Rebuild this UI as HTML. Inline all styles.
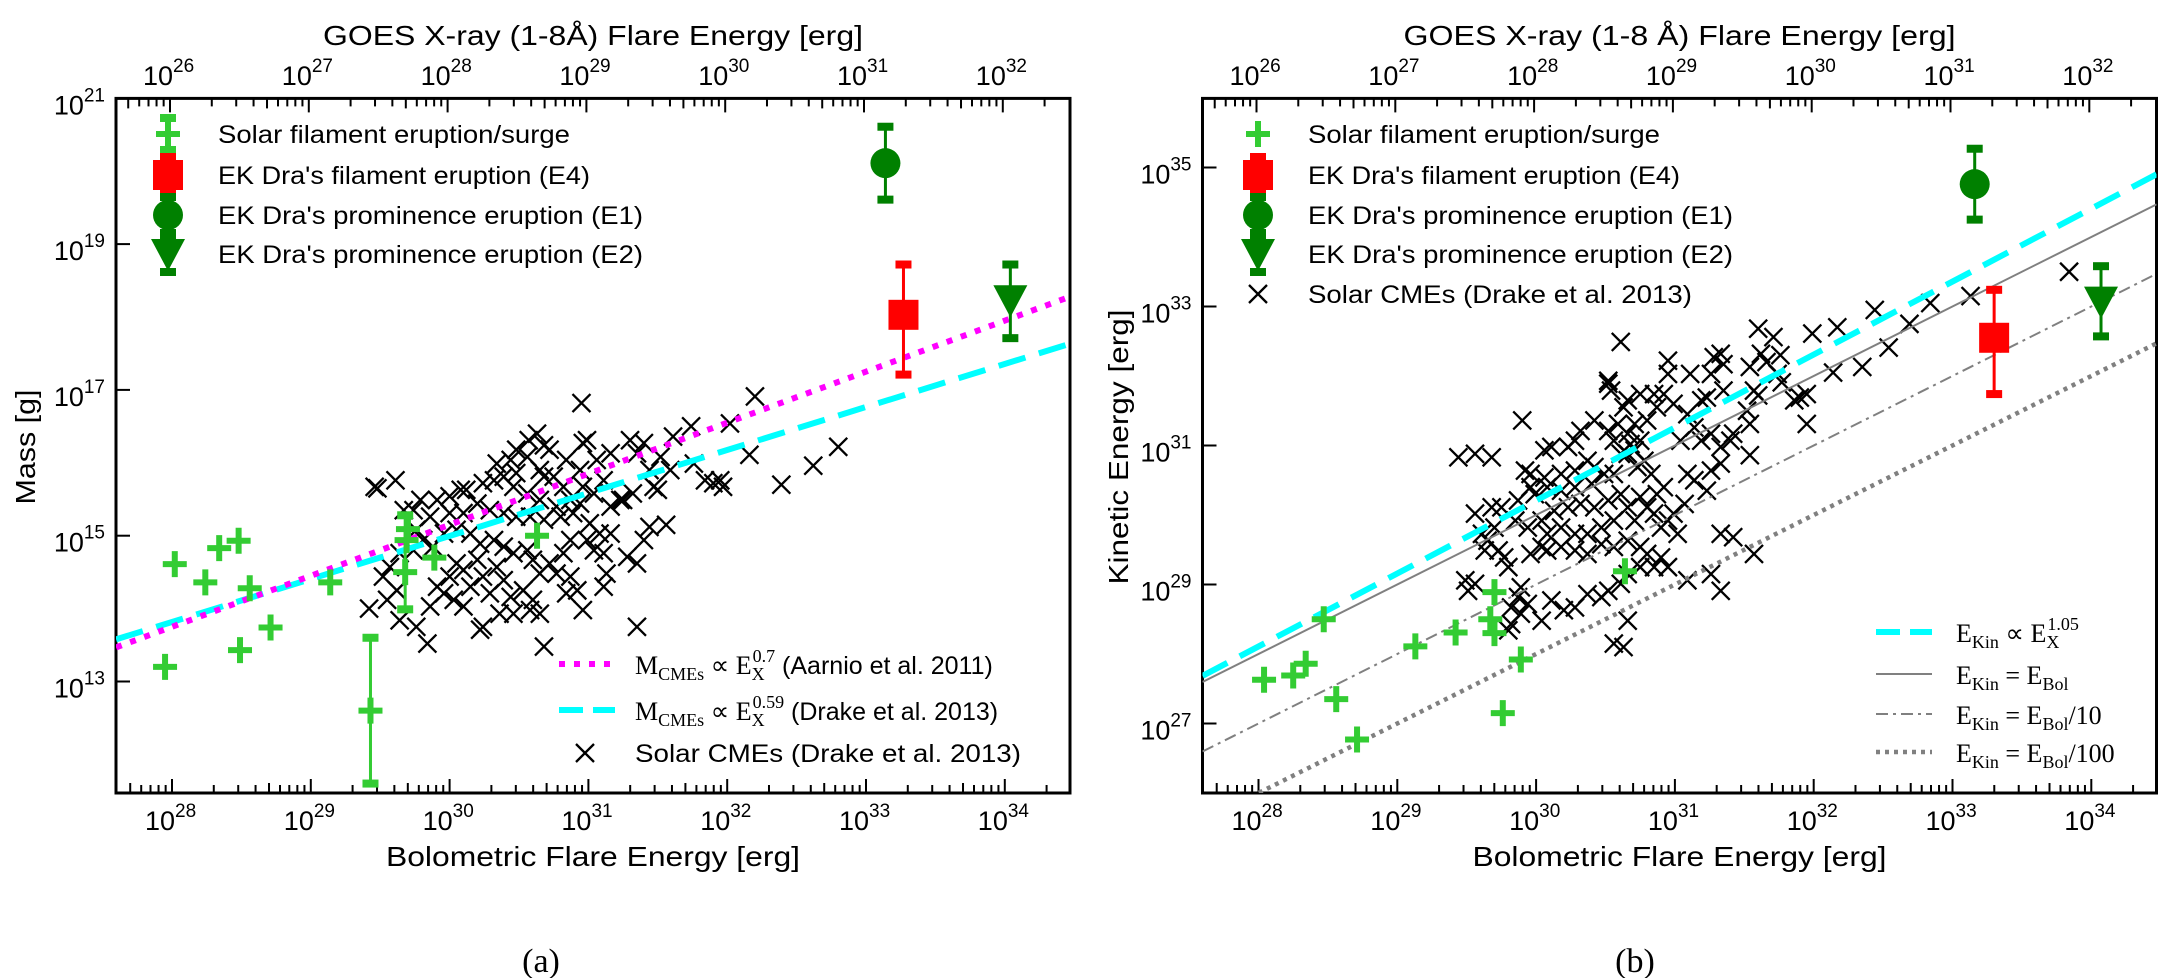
<!DOCTYPE html>
<html><head><meta charset="utf-8"><style>
html,body{margin:0;padding:0;background:#fff;}
svg{display:block;font-family:"Liberation Sans",sans-serif;}
</style></head><body>
<svg id="fig" width="2170" height="978" viewBox="0 0 2170 978" xmlns="http://www.w3.org/2000/svg">
<defs>
<clipPath id="clipL"><rect x="116" y="98.4" width="954" height="694.6"/></clipPath>
<clipPath id="clipR"><rect x="1202.5" y="98.4" width="954" height="694.6"/></clipPath>
</defs>
<g id="panelA"></g>
<g id="panelB"></g>
</svg>
<script>
// ---------- DATA (log10 values) ----------
const solarE_L = [27.95,28.02,28.24,28.34,28.48,28.56,28.49,28.71,29.14,29.43,29.70,29.69,29.68,29.89,30.63];
const solarM_L = [13.2,14.61,14.36,14.83,14.93,14.28,13.43,13.74,14.36,12.6,15.09,14.94,14.5,14.7,15.0];
const solarMlo_L = [null,null,null,null,null,null,null,null,null,11.6,null,null,13.99,null,null];
const solarMhi_L = [null,null,null,null,null,null,null,null,null,13.6,null,null,15.28,null,null];

const solarE_R = [28.04,28.25,28.34,28.47,28.56,28.71,29.13,29.42,29.70,29.67,29.70,29.89,29.76,30.64];
const solarK_R = [27.63,27.69,27.86,28.50,27.35,26.77,28.11,28.31,28.89,28.50,28.30,27.92,27.15,29.19];

const ekE_L = [33.14,33.27,34.04];          // E1, E4, E2
const ekM_L = [20.11,18.03,18.23];
const ekMlo_L = [19.61,17.21,17.71];
const ekMhi_L = [20.61,18.72,18.72];
const ekE_R = [33.16,33.30,34.07];
const ekK_R = [34.76,32.55,33.07];
const ekKlo_R = [34.25,31.74,32.57];
const ekKhi_R = [35.27,33.24,33.58];

const cmeE_L = [30.95,32.20,32.02,31.74,32.16,31.95,31.97,31.90,31.84,31.76,31.61,31.40,31.30,31.35,31.52,31.44,31.59,31.47,31.50,31.32,31.23,31.16,30.99,30.96,31.06,30.94,30.84,30.72,30.63,30.57,30.68,30.48,30.56,30.44,30.34,30.39,30.48,30.65,30.68,30.75,30.82,30.87,30.94,31.04,31.16,31.25,31.11,30.96,30.77,30.65,30.56,30.46,30.32,30.24,30.12,30.08,30.00,29.91,29.79,29.74,29.86,30.00,30.10,30.20,30.29,30.39,30.48,30.58,30.68,30.80,30.89,31.01,31.08,31.16,31.44,31.56,31.40,31.28,31.35,31.11,31.04,30.99,30.87,30.82,30.72,30.77,30.87,30.92,30.84,30.96,31.11,31.13,30.65,30.60,30.56,30.46,30.39,30.32,30.22,30.15,30.05,29.96,29.88,29.81,29.74,29.64,29.57,29.52,29.62,29.55,29.64,29.76,29.84,29.86,29.96,30.00,30.10,30.20,30.24,30.34,30.39,30.44,30.53,30.60,30.58,30.65,30.46,30.36,30.24,30.22,30.10,30.03,29.91,30.68,31.35,29.42,29.48,29.61,29.46,29.76,29.67,30.05,30.15,30.29,32.39,32.62,32.80];
const cmeM_L = [16.82,16.91,16.54,16.50,16.11,15.76,15.67,15.72,15.76,15.99,16.36,16.27,16.31,16.13,16.08,15.90,15.90,15.67,15.63,15.58,15.49,16.13,16.31,16.27,16.04,15.90,16.04,16.18,16.40,16.31,16.24,16.18,16.08,16.04,15.99,15.81,15.86,15.90,15.81,15.81,15.67,15.49,15.44,15.58,15.40,15.49,15.76,15.67,15.40,15.49,15.58,15.67,15.76,15.72,15.63,15.63,15.54,15.49,15.49,15.35,15.26,15.31,15.31,15.44,15.35,15.31,15.26,15.26,15.22,15.26,15.31,15.17,15.03,15.03,15.12,15.15,14.94,14.71,14.62,14.76,14.80,14.94,14.94,14.76,14.62,14.48,14.44,14.25,14.21,13.98,14.30,14.48,14.48,14.67,14.80,14.76,14.85,14.94,14.89,15.03,15.08,15.03,14.85,14.94,14.80,14.76,14.57,14.44,14.25,14.12,13.84,13.75,13.52,14.03,14.21,14.44,14.53,14.67,14.44,14.57,14.39,14.16,14.25,14.12,13.98,13.93,13.93,13.93,13.75,13.71,14.03,14.12,14.30,13.48,13.75,14.00,15.65,15.76,15.67,15.08,15.35,14.62,14.30,14.21,15.70,15.96,16.22];

const cmeE_R = [30.61,31.60,31.71,31.99,32.17,32.35,32.14,32.54,31.95,31.90,31.95,31.86,31.77,31.74,31.76,31.66,31.62,31.54,31.57,31.60,31.52,31.54,31.54,31.42,31.40,31.35,31.33,31.28,31.26,31.35,31.23,31.19,31.11,30.95,30.95,30.92,30.99,31.09,31.14,31.04,31.19,31.26,31.33,31.33,31.26,31.14,31.09,31.23,31.07,30.99,30.95,31.02,30.90,30.85,30.80,30.75,30.87,30.92,30.83,30.73,30.78,30.71,30.66,30.61,30.68,30.75,30.66,30.56,30.52,30.59,30.71,30.80,30.87,30.85,30.75,30.66,30.63,30.52,30.54,30.42,30.32,30.28,30.23,30.11,30.06,29.96,29.92,29.96,30.06,30.18,30.28,30.37,30.42,30.49,30.56,30.40,30.28,30.18,30.08,29.99,29.87,29.75,29.68,29.56,29.70,29.65,29.73,29.63,29.61,29.85,29.94,30.04,30.13,30.23,30.32,30.42,30.52,30.61,30.66,30.71,30.56,30.47,30.37,30.28,30.18,30.08,30.04,29.96,30.08,30.18,30.28,30.37,30.47,30.56,30.66,30.75,30.80,30.90,30.95,30.85,30.75,30.66,30.61,30.52,30.47,30.37,30.28,30.20,30.11,30.04,29.94,29.87,29.82,29.80,29.82,29.89,29.80,29.77,29.56,29.51,29.49,29.44,29.56,29.68,29.90,30.52,31.33,31.42,31.57,31.33,31.26,31.09,30.66,30.56,30.63,29.89,32.44,32.69,32.84,33.13,33.84];
const cmeK_R = [32.49,32.68,32.56,32.61,32.70,32.13,32.05,32.41,31.31,31.69,31.74,31.65,31.91,32.03,32.30,32.20,32.32,32.13,31.79,31.72,31.50,31.31,30.86,31.17,31.07,32.17,32.32,32.27,32.03,31.79,31.69,31.65,32.03,32.22,32.03,31.74,31.60,31.45,31.26,31.07,31.07,31.17,30.98,30.74,30.64,30.50,30.59,30.35,30.16,30.02,29.92,29.73,29.82,30.02,30.11,30.26,30.30,30.40,30.59,30.69,30.78,30.93,30.88,30.88,31.02,31.07,31.17,31.07,31.21,31.31,31.31,31.36,31.55,31.74,31.74,31.65,31.55,31.89,31.79,31.36,31.21,31.07,30.98,30.98,30.93,30.59,30.64,30.40,30.54,30.59,30.64,30.78,30.69,30.59,30.59,30.45,30.40,30.35,30.40,30.30,30.21,30.11,30.11,30.02,29.82,29.63,29.49,29.49,29.73,29.92,29.82,29.92,30.06,30.11,30.16,30.11,30.21,30.30,30.11,29.92,29.92,29.82,29.73,29.73,29.82,29.73,29.54,29.44,29.49,29.54,29.49,29.44,29.58,29.54,29.63,29.54,29.44,29.39,29.25,29.25,29.25,29.15,29.01,28.91,28.82,28.86,28.67,28.63,28.77,28.48,28.72,28.82,28.67,28.34,28.43,28.96,29.25,29.39,29.01,28.91,29.06,30.83,30.88,30.83,31.36,31.93,29.73,29.68,29.44,28.91,29.15,29.06,28.48,28.15,28.10,28.58,32.95,32.75,33.05,33.15,33.50];

// fit relations
const aarnioSlope = 0.7, aarnioX0 = 27.6, aarnioY0 = 13.47;
const drakeSlope = 0.59, drakeX0 = 27.6, drakeY0 = 13.58;
const kinSlope = 1.05, kinX0 = 27.63, kinY0 = 27.72;
const ratioOffsets = [0, -1, -2];   // E_Kin = E_Bol, /10, /100

const bottomTicks = [28,29,30,31,32,33,34];
const topTicks = [26,27,28,29,30,31,32];
const yTicksL = [13,15,17,19,21];
const yTicksR = [27,29,31,33,35];

// ---------- AXES ----------
const NS = "http://www.w3.org/2000/svg";
const DEC = 138.8;
const P = {
  L:{off:0, left:116, right:1070, top:98.4, bottom:793, y0:681.5, yref:13, ydec:72.9, xmin:27.597, xmax:34.47, g:document.getElementById('panelA'), clip:'clipL'},
  R:{off:1086.5, left:1202.5, right:2156.5, top:98.4, bottom:793, y0:723.5, yref:27, ydec:69.5, xmin:27.597, xmax:34.47, g:document.getElementById('panelB'), clip:'clipR'}
};
function sx(p, v){ return 172 + (v-28)*DEC + p.off; }
function sxTop(p, v){ return 170 + (v-26)*DEC + p.off; }
function sy(p, v){ return p.y0 - (v-p.yref)*p.ydec; }
function mk(tag, attrs, parent){
  const e = document.createElementNS(NS, tag);
  for (const k in attrs) e.setAttribute(k, attrs[k]);
  parent.appendChild(e);
  return e;
}
function pw(base, exp, x, y, anchor, parent){
  const t = mk('text', {x:x, y:y, 'font-size':27, 'text-anchor':anchor, fill:'#000'}, parent);
  t.appendChild(document.createTextNode(base));
  const s = mk('tspan', {dy:-13, 'font-size':19}, t);
  s.textContent = exp;
  return t;
}

function drawFrame(p, key, yTicks, yTitle){
  const g = p.g;
  const frame = mk('rect', {x:p.left, y:p.top, width:p.right-p.left, height:p.bottom-p.top, fill:'none', stroke:'#000', 'stroke-width':3}, g);
  
  
  const ticksG = mk('g', {stroke:'#000', 'stroke-width':2}, g);
  
  
  for (let d=27; d<=34; d++){
    for (let m=1; m<=9; m++){
      const v = d + Math.log10(m);
      const x = sx(p, v);
      if (x>=p.left+1 && x<=p.right-1){
        const len = m===1 ? 14 : (m===5 ? 10 : 8);
        mk('line', {x1:x, y1:p.bottom, x2:x, y2:p.bottom-len}, ticksG);
      }
      const xt = sxTop(p, v-2);
      if (xt>=p.left+1 && xt<=p.right-1){
        const len = m===1 ? 14 : (m===5 ? 10 : 8);
        mk('line', {x1:xt, y1:p.top, x2:xt, y2:p.top+len}, ticksG);
      }
    }
  }
  bottomTicks.forEach(v=>{
    const t = pw('10', String(v), sx(p,v)-27, 830, 'start', g);
    
    
  });
  topTicks.forEach(v=>{
    const t = pw('10', String(v), sxTop(p,v)-27, 85, 'start', g);
    
    
  });
  yTicks.forEach(v=>{
    const y = sy(p, v);
    const l = mk('line', {x1:p.left, y1:y, x2:p.left+14, y2:y, stroke:'#000', 'stroke-width':2}, g);
    
    
    const t = pw('10', String(v), p.left-11, y+16, 'end', g);
    
    
  });
  const cx = (p.left+p.right)/2;
  const bt = mk('text', {x:cx, y:866, 'font-size':28, 'text-anchor':'middle', textLength:414, lengthAdjust:'spacingAndGlyphs'}, g);
  bt.textContent = 'Bolometric Flare Energy [erg]';
  
  
  const tt = mk('text', {x:cx, y:45, 'font-size':28, 'text-anchor':'middle', textLength:(key==='a'?540:552), lengthAdjust:'spacingAndGlyphs'}, g);
  tt.textContent = key==='a' ? 'GOES X-ray (1-8Å) Flare Energy [erg]' : 'GOES X-ray (1-8 Å) Flare Energy [erg]';
  
  
  const yx = key==='a' ? 35 : 1128;
  const yt = mk('text', {x:yx, y:447, 'font-size':28, 'text-anchor':'middle', transform:'rotate(-90 '+yx+' 447)', textLength:(key==='a'?115:275), lengthAdjust:'spacingAndGlyphs'}, g);
  yt.textContent = yTitle;
  
  
  const cap = mk('text', {x:(key==='a'?541:1635), y:972, 'font-size':34, 'text-anchor':'middle', 'font-family':'"Liberation Serif",serif'}, g);
  cap.textContent = key==='a' ? '(a)' : '(b)';
  
  
}

function xMark(parent, x, y, s){
  const d = 'M'+(x-s)+' '+(y-s)+'L'+(x+s)+' '+(y+s)+'M'+(x-s)+' '+(y+s)+'L'+(x+s)+' '+(y-s);
  return mk('path', {d:d, stroke:'#000', 'stroke-width':2.3, fill:'none'}, parent);
}
function plusMark(parent, x, y){
  const d = 'M'+(x-12)+' '+y+'H'+(x+12)+'M'+x+' '+(y-13)+'V'+(y+13);
  return mk('path', {d:d, stroke:'#33cc33', 'stroke-width':6, fill:'none'}, parent);
}
function errBar(parent, x, y1, y2, col){
  const g = mk('g', {}, parent);
  mk('line', {x1:x, y1:y1, x2:x, y2:y2, stroke:col, 'stroke-width':3}, g);
  mk('rect', {x:x-8, y:y1-4, width:16, height:8, fill:col}, g);
  mk('rect', {x:x-8, y:y2-4, width:16, height:8, fill:col}, g);
  return g;
}
function ekMarker(parent, i, x, y){
  if (i===0) return mk('circle', {cx:x, cy:y, r:15, fill:'#008000'}, parent);
  if (i===1) return mk('rect', {x:x-15, y:y-15, width:30, height:30, fill:'#ff0000'}, parent);
  return mk('path', {d:'M'+(x-17)+' '+(y-15)+'H'+(x+17)+'L'+x+' '+(y+17)+'Z', fill:'#008000'}, parent);
}
const ekCols = ['#008000','#ff0000','#008000'];

function lineSeg(p, slope, x0, y0, attrs, parent){
  const xa = p.xmin, xb = p.xmax;
  const a = Object.assign({x1:sx(p,xa), y1:sy(p, y0+slope*(xa-x0)), x2:sx(p,xb), y2:sy(p, y0+slope*(xb-x0)), fill:'none'}, attrs);
  return mk('line', a, parent);
}

// ---------- PANEL A ----------
(function(){
  const p = P.L;
  drawFrame(p, 'a', yTicksL, 'Mass [g]');
  const g = mk('g', {'clip-path':'url(#clipL)'}, p.g);
  const cg = mk('g', {}, g);
  
  
  const n = Math.min(cmeE_L.length, cmeM_L.length);
  for (let i=0;i<n;i++){
    const m = xMark(cg, sx(p,cmeE_L[i]), sy(p,cmeM_L[i]), 9);
    
    
  }
  const l1 = lineSeg(p, drakeSlope, drakeX0, drakeY0, {stroke:'#00ffff', 'stroke-width':6, 'stroke-dasharray':'28 14'}, g);
  
  
  const l2 = lineSeg(p, aarnioSlope, aarnioX0, aarnioY0, {stroke:'#ff00ff', 'stroke-width':6, 'stroke-dasharray':'6 9'}, g);
  
  
  const sg = mk('g', {}, g);
  
  
  for (let i=0;i<solarE_L.length;i++){
    const x = sx(p,solarE_L[i]);
    if (solarMlo_L[i]!==null){
      const e = errBar(sg, x, sy(p,solarMhi_L[i]), sy(p,solarMlo_L[i]), '#33cc33');
      
      
    }
    const m = plusMark(sg, x, sy(p,solarM_L[i]));
    
    
  }
  const names = ['ek-dra-e1','ek-dra-e4','ek-dra-e2'];
  for (let i=0;i<3;i++){
    const x = sx(p,ekE_L[i]);
    const e = errBar(g, x, sy(p,ekMhi_L[i]), sy(p,ekMlo_L[i]), ekCols[i]);
    
    
    const m = ekMarker(g, i, x, sy(p,ekM_L[i]));
    
    
  }
})();

// ---------- PANEL B ----------
(function(){
  const p = P.R;
  drawFrame(p, 'b', yTicksR, 'Kinetic Energy [erg]');
  const g = mk('g', {'clip-path':'url(#clipR)'}, p.g);
  const cg = mk('g', {}, g);
  
  
  const n = Math.min(cmeE_R.length, cmeK_R.length);
  for (let i=0;i<n;i++){
    const m = xMark(cg, sx(p,cmeE_R[i]), sy(p,cmeK_R[i]), 9);
    
    
  }
  const styles = [
    {stroke:'#808080', 'stroke-width':2},
    {stroke:'#808080', 'stroke-width':2, 'stroke-dasharray':'12 5 3 5'},
    {stroke:'#808080', 'stroke-width':4.5, 'stroke-dasharray':'4 5'}
  ];
  const lnames = ['ekin-equals-ebol-line','ekin-ebol-over-10-line','ekin-ebol-over-100-line'];
  ratioOffsets.forEach((o,i)=>{
    const l = lineSeg(p, 1, 0, o, styles[i], g);
    
    
  });
  const lk = lineSeg(p, kinSlope, kinX0, kinY0, {stroke:'#00ffff', 'stroke-width':6, 'stroke-dasharray':'28 14'}, g);
  
  
  const sg = mk('g', {}, g);
  
  
  for (let i=0;i<solarE_R.length;i++){
    const m = plusMark(sg, sx(p,solarE_R[i]), sy(p,solarK_R[i]));
    
    
  }
  const names = ['ek-dra-e1','ek-dra-e4','ek-dra-e2'];
  for (let i=0;i<3;i++){
    const x = sx(p,ekE_R[i]);
    const e = errBar(g, x, sy(p,ekKhi_R[i]), sy(p,ekKlo_R[i]), ekCols[i]);
    
    
    const m = ekMarker(g, i, x, sy(p,ekK_R[i]));
    
    
  }
})();

// ---------- LEGENDS ----------
(function(){
  const svg = document.getElementById('fig');
  function legText(parent, x, y, str, len){
    const t = mk('text', {x:x, y:y+9, 'font-size':25, textLength:len, lengthAdjust:'spacingAndGlyphs'}, parent);
    t.textContent = str;
    return t;
  }
  const labels = ['Solar filament eruption/surge', "EK Dra's filament eruption (E4)", "EK Dra's prominence eruption (E1)", "EK Dra's prominence eruption (E2)"];
  const lens = [352, 372, 425, 425];
  const rows = [134,175,215,254];
  [['a',168,218],['b',1258,1308]].forEach(([k,mx,tx])=>{
    const lg = mk('g', {}, svg);
    
    
    for (let i=0;i<4;i++){
      const e = mk('g', {}, lg);
      
      
      const y = rows[i];
      if (i===0){
        if (k==='a') errBar(e, mx, y-16, y+16, '#33cc33');
        plusMark(e, mx, y);
      } else {
        const idx = i===1 ? 1 : (i===2 ? 0 : 2);
        errBar(e, mx, y-18, y+18, ekCols[idx]);
        ekMarker(e, idx, mx, y);
      }
      legText(e, tx, y, labels[i], lens[i]);
    }
    if (k==='b'){
      const e = mk('g', {}, lg);
      
      
      xMark(e, mx, 294, 9);
      legText(e, tx, 294, 'Solar CMEs (Drake et al. 2013)', 384);
    }
  });
  const la = mk('g', {}, svg);
  
  
  function mathLine(parent, x, y, pre, sub, mid, supSub, sup, post){
    const t = mk('text', {x:x, y:y+10, 'font-size':26, 'font-family':'"Liberation Serif",serif'}, parent);
    const a = mk('tspan', {}, t); a.textContent = pre;
    const b = mk('tspan', {dy:6, 'font-size':18}, t); b.textContent = sub;
    const c = mk('tspan', {dy:-6}, t); c.textContent = mid;
    const d = mk('tspan', {dy:6, 'font-size':18}, t); d.textContent = supSub;
    const e = mk('tspan', {dy:-18, 'font-size':18, dx:-12}, t); e.textContent = sup;
    const f = mk('tspan', {dy:12, 'font-family':'"Liberation Sans",sans-serif', 'font-size':25}, t); f.textContent = post;
    return t;
  }
  const e1 = mk('g', {}, la);  
  mk('line', {x1:559, y1:664, x2:615, y2:664, stroke:'#ff00ff', 'stroke-width':6, 'stroke-dasharray':'6 9'}, e1);
  mathLine(e1, 635, 664, 'M', 'CMEs', ' ∝ E', 'X', '0.7', ' (Aarnio et al. 2011)');
  const e2 = mk('g', {}, la);  
  mk('line', {x1:559, y1:710, x2:615, y2:710, stroke:'#00ffff', 'stroke-width':6, 'stroke-dasharray':'24 10'}, e2);
  mathLine(e2, 635, 710, 'M', 'CMEs', ' ∝ E', 'X', '0.59', ' (Drake et al. 2013)');
  const e3 = mk('g', {}, la);  
  xMark(e3, 585, 753, 9);
  legText(e3, 635, 753, 'Solar CMEs (Drake et al. 2013)', 386);
  const lb = mk('g', {}, svg);
  
  
  const f1 = mk('g', {}, lb);  
  mk('line', {x1:1876, y1:632, x2:1932, y2:632, stroke:'#00ffff', 'stroke-width':6, 'stroke-dasharray':'24 10'}, f1);
  mathLine(f1, 1956, 632, 'E', 'Kin', ' ∝ E', 'X', '1.05', '');
  const bs = [[674,{stroke:'#808080','stroke-width':2},''],[714,{stroke:'#808080','stroke-width':2,'stroke-dasharray':'12 5 3 5'},'/10'],[752,{stroke:'#808080','stroke-width':4.5,'stroke-dasharray':'4 5'},'/100']];
  bs.forEach(([y,st,suf])=>{
    const f = mk('g', {}, lb);  
    mk('line', Object.assign({x1:1876, y1:y, x2:1932, y2:y}, st), f);
    const t = mk('text', {x:1956, y:y+10, 'font-size':26, 'font-family':'"Liberation Serif",serif'}, f);
    const a = mk('tspan', {}, t); a.textContent = 'E';
    const b = mk('tspan', {dy:6, 'font-size':18}, t); b.textContent = 'Kin';
    const c = mk('tspan', {dy:-6}, t); c.textContent = ' = E';
    const d = mk('tspan', {dy:6, 'font-size':18}, t); d.textContent = 'Bol';
    const e = mk('tspan', {dy:-6}, t); e.textContent = suf;
  });
})();
</script>
</body></html>
